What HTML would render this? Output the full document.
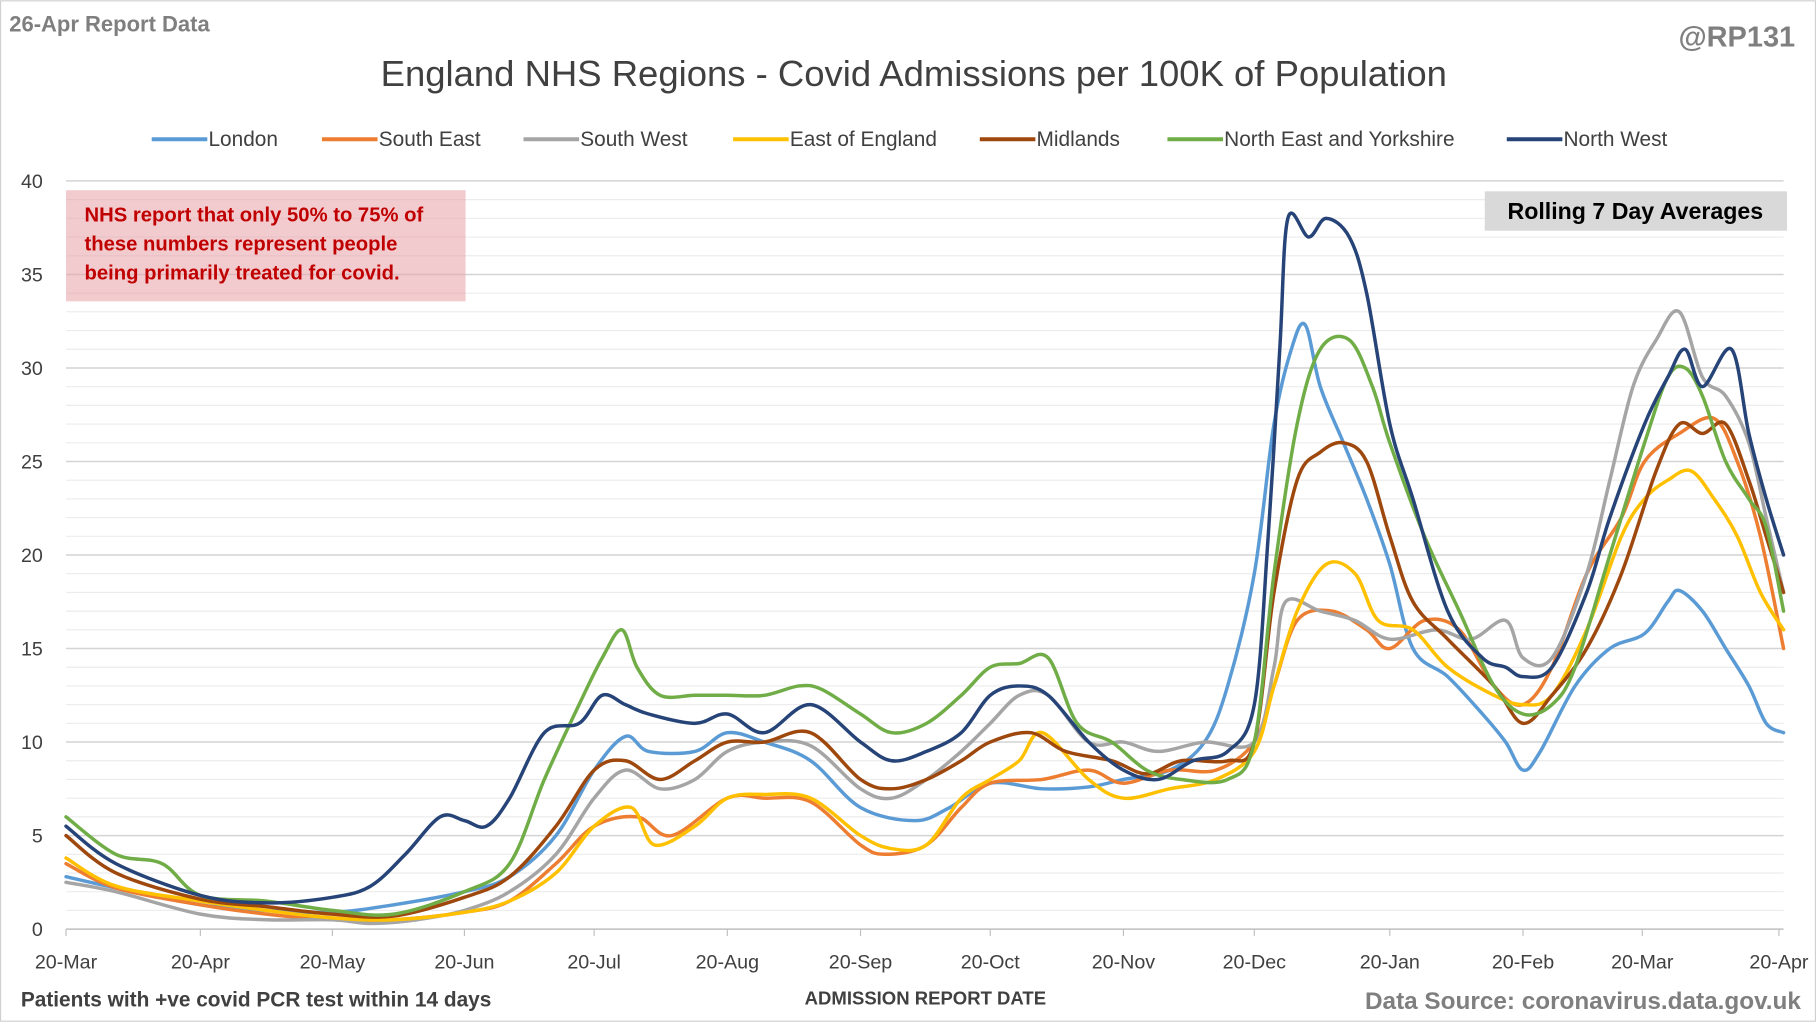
<!DOCTYPE html>
<html><head><meta charset="utf-8"><style>
html,body{margin:0;padding:0;background:#fff;}
svg{display:block;font-family:"Liberation Sans",Calibri,sans-serif;}
</style></head><body>
<svg id="s" width="1816" height="1022" viewBox="0 0 1568 882" xmlns="http://www.w3.org/2000/svg">
<rect x="0.5" y="0.5" width="1567" height="881" fill="#fff" stroke="#d0d0d0"/>
<g id="grid"></g>
<rect x="57" y="164" width="345" height="96" fill="#e8a0a8" opacity="0.55"/>
<text fill="#c00000" font-weight="bold" font-size="17.5"><tspan x="73" y="191">NHS report that only 50% to 75% of</tspan><tspan x="73" y="216">these numbers represent people</tspan><tspan x="73" y="241">being primarily treated for covid.</tspan></text>
<rect x="1282" y="165" width="261" height="34" fill="#d9d9d9"/>
<text x="1412" y="189" text-anchor="middle" font-size="20" font-weight="bold" fill="#000">Rolling 7 Day Averages</text>
<g id="series" fill="none" stroke-width="3" stroke-linejoin="round" stroke-linecap="round"></g>
<text x="8" y="27" font-size="19" font-weight="bold" fill="#7f7f7f">26-Apr Report Data</text>
<text x="1550" y="40" text-anchor="end" font-size="25" font-weight="bold" fill="#7f7f7f">@RP131</text>
<text x="789" y="74" text-anchor="middle" font-size="31.5" fill="#404040">England NHS Regions - Covid Admissions per 100K of Population</text>
<g id="legend" font-size="18" fill="#404040"></g>
<g id="axis" font-size="17" fill="#404040"></g>
<text x="18" y="869" font-size="18" font-weight="bold" fill="#404040">Patients with +ve covid PCR test within 14 days</text>
<text x="799" y="867" text-anchor="middle" font-size="16" font-weight="bold" fill="#404040">ADMISSION REPORT DATE</text>
<text x="1555" y="871" text-anchor="end" font-size="21" fill="#7f7f7f" font-weight="bold">Data Source: coronavirus.data.gov.uk</text>
</svg>
<script>
var NS="http://www.w3.org/2000/svg";
function el(p,t,a,txt){var e=document.createElementNS(NS,t);for(var k in a)e.setAttribute(k,a[k]);if(txt!=null)e.textContent=txt;document.getElementById(p).appendChild(e);return e;}
function Y(v){return 802-v*16.15;}
for(var v=0;v<=40;v++){if(v%5==0)continue;el("grid","line",{x1:57,x2:1540,y1:Y(v),y2:Y(v),stroke:"#ececec","stroke-width":1});}
for(var v=5;v<=40;v+=5){el("grid","line",{x1:57,x2:1540,y1:Y(v),y2:Y(v),stroke:"#d4d4d4","stroke-width":1.3});el("axis","text",{x:37,y:Y(v)+6,"text-anchor":"end"},v);}
el("axis","text",{x:37,y:808,"text-anchor":"end"},0);
el("grid","line",{x1:57,x2:1540,y1:802,y2:802,stroke:"#bfbfbf","stroke-width":1.3});
var ticks=[[57,"20-Mar"],[173,"20-Apr"],[287,"20-May"],[401,"20-Jun"],[513,"20-Jul"],[628,"20-Aug"],[743,"20-Sep"],[855,"20-Oct"],[970,"20-Nov"],[1083,"20-Dec"],[1200,"20-Jan"],[1315,"20-Feb"],[1418,"20-Mar"],[1536,"20-Apr"]];
ticks.forEach(function(t){el("grid","line",{x1:t[0],x2:t[0],y1:802,y2:808,stroke:"#bfbfbf"});el("axis","text",{x:t[0],y:836,"text-anchor":"middle"},t[1]);});
var S=[
["London","#5B9BD5",[[57,2.8],[100,2.2],[173,1.3],[230,1],[287,0.9],[340,1.3],[401,2],[440,2.8],[480,5],[513,8.5],[540,10.3],[560,9.5],[600,9.5],[628,10.5],[660,10],[700,9],[743,6.5],[790,5.8],[820,6.5],[855,7.8],[900,7.5],[940,7.6],[970,8],[1010,8.5],[1040,10],[1060,13],[1083,19],[1100,27],[1115,31],[1127,32.3],[1140,29],[1160,26],[1180,23],[1200,19.5],[1220,15],[1250,13.5],[1280,11.5],[1300,10],[1315,8.5],[1330,9.5],[1360,13],[1390,15],[1420,15.8],[1440,17.5],[1450,18.1],[1470,17],[1490,15],[1510,13],[1525,11],[1540,10.5]]],
["South East","#ED7D31",[[57,3.5],[100,2.2],[173,1.3],[230,0.8],[287,0.5],[340,0.5],[401,0.9],[440,1.5],[480,3.5],[513,5.5],[550,6],[580,5],[628,7],[660,7],[700,6.8],[743,4.5],[765,4],[800,4.5],[830,6.5],[855,7.8],[900,8],[940,8.5],[970,7.8],[1010,8.5],[1050,8.5],[1083,10],[1100,13],[1120,16.5],[1150,17],[1180,16],[1200,15],[1230,16.5],[1260,16],[1290,13],[1315,12],[1340,14],[1370,19],[1400,22],[1420,25],[1450,26.5],[1480,27.3],[1500,25],[1520,21],[1540,15]]],
["South West","#A5A5A5",[[57,2.5],[100,2],[173,0.8],[230,0.5],[287,0.5],[320,0.3],[360,0.5],[401,1],[440,2],[480,4],[513,7],[540,8.5],[570,7.5],[600,8],[628,9.5],[660,10],[700,9.8],[743,7.5],[770,7],[800,8],[830,9.5],[855,11],[880,12.5],[905,12.5],[940,10],[970,10],[1000,9.5],[1040,10],[1083,10],[1100,14],[1110,17.5],[1140,17],[1170,16.5],[1200,15.5],[1240,16],[1270,15.5],[1300,16.5],[1315,14.5],[1340,14.5],[1370,19],[1390,24],[1410,29],[1430,31.5],[1450,33],[1470,29.5],[1490,28.5],[1510,26],[1525,22],[1540,18]]],
["East of England","#FFC000",[[57,3.8],[100,2.3],[173,1.5],[230,1],[287,0.6],[340,0.5],[401,0.9],[440,1.5],[480,3],[513,5.5],[545,6.5],[565,4.5],[600,5.5],[628,7],[660,7.2],[700,7],[743,5],[770,4.3],[800,4.5],[830,7],[855,8],[880,9],[900,10.5],[940,8],[970,7],[1010,7.5],[1050,8],[1083,9.5],[1100,13],[1120,17],[1145,19.5],[1170,19],[1190,16.5],[1220,16],[1250,14],[1290,12.5],[1315,12],[1340,12.5],[1370,16],[1400,21],[1420,23],[1440,24],[1460,24.5],[1480,23],[1500,21],[1520,18],[1540,16]]],
["Midlands","#9E480E",[[57,5],[100,3],[173,1.6],[230,1.2],[287,0.8],[340,0.7],[401,1.7],[440,2.8],[480,5.5],[513,8.5],[540,9],[570,8],[600,9],[628,10],[660,10],[700,10.5],[743,8],[770,7.5],[800,8],[830,9],[855,10],[890,10.5],[920,9.5],[960,9],[990,8.3],[1020,9],[1060,9],[1083,10],[1100,18],[1120,24],[1140,25.5],[1160,26],[1180,25],[1200,21],[1220,17.5],[1250,15.5],[1290,13],[1315,11],[1340,12.5],[1370,15],[1400,19],[1430,24.5],[1450,27],[1470,26.5],[1490,27],[1510,24],[1525,21],[1540,18]]],
["North East and Yorkshire","#70AD47",[[57,6],[100,4],[140,3.5],[173,1.8],[230,1.5],[287,1],[340,0.8],[401,2],[440,3.5],[470,8],[500,12],[520,14.5],[537,16],[550,14],[570,12.5],[600,12.5],[628,12.5],[660,12.5],[690,13],[710,12.8],[743,11.5],[770,10.5],[800,11],[830,12.5],[855,14],[880,14.2],[905,14.5],[930,11],[960,10],[990,8.5],[1020,8],[1060,8],[1083,10],[1100,19],[1120,27],[1140,31],[1165,31.5],[1185,29],[1200,26],[1230,21],[1260,17],[1290,13],[1315,11.5],[1340,12],[1360,14],[1390,20],[1420,26],[1440,29.5],[1455,30],[1470,28.5],[1490,25],[1510,23],[1525,21.5],[1540,17]]],
["North West","#264478",[[57,5.5],[100,3.5],[173,1.8],[230,1.4],[287,1.7],[320,2.3],[350,4],[380,6],[401,5.8],[420,5.5],[440,7],[470,10.5],[500,11],[520,12.5],[540,12],[560,11.5],[600,11],[628,11.5],[660,10.5],[700,12],[743,10],[770,9],[800,9.5],[830,10.5],[855,12.5],[880,13],[905,12.5],[940,10],[970,8.5],[1000,8],[1030,9],[1060,9.5],[1083,12],[1095,21],[1105,31],[1112,38],[1130,37],[1145,38],[1165,37],[1180,34],[1200,27],[1220,23],[1250,17],[1280,14.5],[1300,14],[1315,13.5],[1340,14],[1370,18],[1390,22],[1420,27],[1440,29.5],[1455,31],[1470,29],[1495,31],[1510,26.5],[1525,23],[1540,20]]]
];
S.forEach(function(s){var pts=s[2].map(function(p){return [p[0],Y(p[1])];});
var d="M"+pts[0][0]+","+pts[0][1];
for(var i=0;i<pts.length-1;i++){var p0=pts[Math.max(0,i-1)],p1=pts[i],p2=pts[i+1],p3=pts[Math.min(pts.length-1,i+2)];
d+=" C"+(p1[0]+(p2[0]-p0[0])/6)+","+(p1[1]+(p2[1]-p0[1])/6)+" "+(p2[0]-(p3[0]-p1[0])/6)+","+(p2[1]-(p3[1]-p1[1])/6)+" "+p2[0]+","+p2[1];}
el("series","path",{d:d,stroke:s[1]});});
var lx=[[131,"London"],[278,"South East"],[452,"South West"],[633,"East of England"],[846,"Midlands"],[1008,"North East and Yorkshire"],[1301,"North West"]];
lx.forEach(function(l,i){el("legend","line",{x1:l[0],x2:l[0]+48,y1:120,y2:120,stroke:S[i][1],"stroke-width":3.5});el("legend","text",{x:l[0]+49,y:126},l[1]);});
</script>
</body></html>
